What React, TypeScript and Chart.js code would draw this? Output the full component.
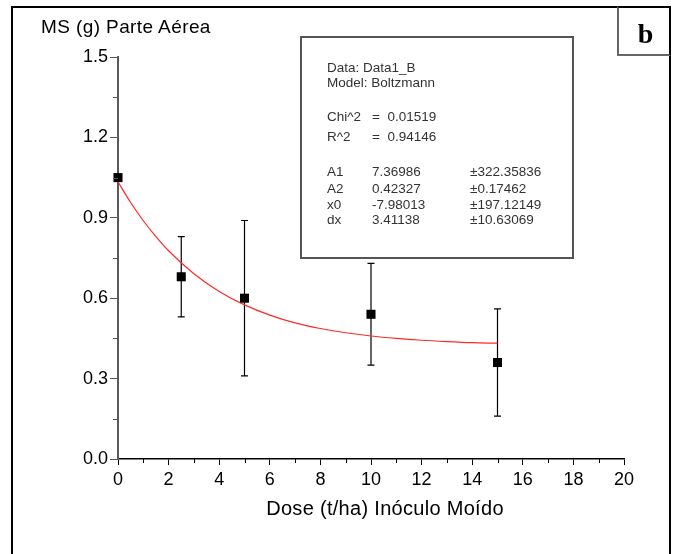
import React, { useEffect, useRef } from 'react';
import { Chart, registerables } from 'chart.js';

Chart.register(...registerables);

// ---- data ----
const doses = [0, 2.5, 5, 10, 15];
const msMeans = [1.05, 0.68, 0.6, 0.54, 0.36];
const msErrors = [0, 0.15, 0.29, 0.19, 0.2];

// Boltzmann fit values (A1=7.36986, A2=0.42327, x0=-7.98013, dx=3.41138), tabulated
const fitDoses = [0, 0.5, 1, 1.5, 2, 3, 4, 5, 6, 7, 8, 9, 10, 11, 12, 13, 14, 15];
const fitValues = [1.034, 0.957, 0.889, 0.83, 0.777, 0.691, 0.625, 0.575, 0.537, 0.508, 0.487, 0.471, 0.459, 0.45, 0.443, 0.438, 0.434, 0.432];

const xTickLabels = ['0', '2', '4', '6', '8', '10', '12', '14', '16', '18', '20'];
const yTickLabels = ['0.0', '0.3', '0.6', '0.9', '1.2', '1.5'];

const yTitle = 'MS (g) Parte Aérea';
const xTitle = 'Dose (t/ha) Inóculo Moído';
const panelLetter = 'b';

const infoHeader = ['Data: Data1_B', 'Model: Boltzmann'];
const infoStatNames = ['Chi^2', 'R^2'];
const infoStatValues = ['=  0.01519', '=  0.94146'];
const paramNames = ['A1', 'A2', 'x0', 'dx'];
const paramValues = ['7.36986', '0.42327', '-7.98013', '3.41138'];
const paramErrors = ['±322.35836', '±0.17462', '±197.12149', '±10.63069'];

const FONT = '"Liberation Sans", Arial, sans-serif';

const isMajorY = (v: number) => Math.abs(v / 0.3 - Math.round(v / 0.3)) < 1e-6;
const isMajorX = (v: number) => Math.abs(v / 2 - Math.round(v / 2)) < 1e-6;

const extrasPlugin = {
  id: 'extras',
  beforeDatasetsDraw(chart: any) {
    const { ctx, scales } = chart;
    const xs = scales.x, ys = scales.y;
    ctx.save();
    ctx.strokeStyle = '#000';
    ctx.lineWidth = 1.2;
    for (let i = 0; i < doses.length; i++) {
      if (!msErrors[i]) continue;
      const px = xs.getPixelForValue(doses[i]);
      const top = ys.getPixelForValue(msMeans[i] + msErrors[i]);
      const bot = ys.getPixelForValue(msMeans[i] - msErrors[i]);
      ctx.beginPath();
      ctx.moveTo(px, top); ctx.lineTo(px, bot);
      ctx.moveTo(px - 3.5, top); ctx.lineTo(px + 3.5, top);
      ctx.moveTo(px - 3.5, bot); ctx.lineTo(px + 3.5, bot);
      ctx.stroke();
    }
    ctx.restore();
  },
  afterDraw(chart: any) {
    const { ctx, scales } = chart;
    const xs = scales.x, ys = scales.y;
    ctx.save();
    ctx.lineWidth = 1;
    ctx.strokeStyle = '#555';
    ys.ticks.forEach((t: any) => {
      if (isMajorY(t.value)) return;
      const py = Math.round(ys.getPixelForValue(t.value)) + 0.5;
      ctx.beginPath();
      ctx.moveTo(ys.right - 5, py); ctx.lineTo(ys.right, py);
      ctx.stroke();
    });
    ctx.strokeStyle = '#000';
    xs.ticks.forEach((t: any) => {
      if (isMajorX(t.value)) return;
      const px = Math.round(xs.getPixelForValue(t.value)) + 0.5;
      ctx.beginPath();
      ctx.moveTo(px, xs.top); ctx.lineTo(px, xs.top + 4);
      ctx.stroke();
    });
    ctx.restore();
  },
};

export default function App() {
  const ref = useRef<HTMLCanvasElement | null>(null);

  useEffect(() => {
    if (!ref.current) return;
    const chart = new Chart(ref.current, {
      type: 'scatter',
      data: {
        datasets: [
          {
            type: 'scatter',
            label: 'MS',
            data: doses.map((d, i) => ({ x: d, y: msMeans[i] })),
            pointStyle: 'rect',
            pointRadius: 6.4,
            pointHoverRadius: 6.4,
            backgroundColor: '#000',
            borderColor: '#000',
            borderWidth: 0,
            clip: false,
            order: 0,
          } as any,
          {
            type: 'line',
            label: 'Boltzmann',
            data: fitDoses.map((d, i) => ({ x: d, y: fitValues[i] })),
            borderColor: '#ff2a2a',
            borderWidth: 1.2,
            pointRadius: 0,
            fill: false,
            cubicInterpolationMode: 'monotone',
            order: 1,
          } as any,
        ],
      },
      options: {
        responsive: false,
        animation: false,
        devicePixelRatio: 1,
        layout: { padding: { top: 57, right: 52, left: 0, bottom: 0 } },
        plugins: { legend: { display: false }, tooltip: { enabled: false }, title: { display: false } },
        scales: {
          x: {
            type: 'linear',
            min: 0,
            max: 20,
            afterFit: (s: any) => { s.height = 95; },
            ticks: {
              stepSize: 1,
              autoSkip: false,
              maxRotation: 0,
              padding: 4,
              color: '#000',
              font: { family: FONT, size: 18 },
              callback: (v: any) => (isMajorX(Number(v)) ? xTickLabels[Math.round(Number(v) / 2)] : ''),
            },
            grid: {
              display: true,
              drawOnChartArea: false,
              drawTicks: true,
              tickLength: 6,
              tickColor: (c: any) => (c.tick && isMajorX(c.tick.value) ? '#000' : 'rgba(0,0,0,0)'),
            },
            border: { display: true, color: '#000', width: 1.5 },
          },
          y: {
            type: 'linear',
            min: 0,
            max: 1.5,
            afterFit: (s: any) => { s.width = 118; },
            ticks: {
              stepSize: 0.15,
              autoSkip: false,
              padding: 2,
              color: '#000',
              font: { family: FONT, size: 18 },
              callback: (v: any) => (isMajorY(Number(v)) ? yTickLabels[Math.round(Number(v) / 0.3)] : ''),
            },
            grid: {
              display: true,
              drawOnChartArea: false,
              drawTicks: true,
              tickLength: 8,
              tickColor: (c: any) => (c.tick && isMajorY(c.tick.value) ? '#555' : 'rgba(0,0,0,0)'),
            },
            border: { display: true, color: '#5a5a5a', width: 2 },
          },
        },
      },
      plugins: [extrasPlugin],
    });
    return () => chart.destroy();
  }, []);

  const abs = (s: React.CSSProperties): React.CSSProperties => ({ position: 'absolute', margin: 0, padding: 0, ...s });
  const infoText: React.CSSProperties = { fontFamily: FONT, fontSize: 13.5, color: '#333', lineHeight: '16px', whiteSpace: 'nowrap' };
  const headerY = [60, 75];
  const statY = [109, 129];
  const paramY = [164, 181, 197, 212];

  return (
    <div style={{ position: 'fixed', left: 0, top: 0, width: 676, height: 554, background: '#fff', overflow: 'hidden' }}>
      <canvas ref={ref} width={676} height={554} style={{ position: 'absolute', left: 0, top: 0, width: 676, height: 554 }} />
      {/* outer frame */}
      <div style={abs({ left: 11, top: 6, width: 660, height: 600, boxSizing: 'border-box', borderTop: '2px solid #000', borderLeft: '2px solid #000', borderRight: '2px solid #000' })} />
      {/* panel letter */}
      <div style={abs({ left: 617, top: 6, width: 54, height: 50, boxSizing: 'border-box', borderLeft: '2px solid #666', borderBottom: '2px solid #666', borderTop: '2px solid #000', borderRight: '2px solid #000', display: 'flex', alignItems: 'center', justifyContent: 'center', fontFamily: '"Liberation Serif", "Times New Roman", serif', fontWeight: 'bold', fontSize: 28, lineHeight: '28px', color: '#000' })}>
        <span style={{ marginTop: 6, marginLeft: 3 }}>{panelLetter}</span>
      </div>
      {/* y title */}
      <div style={abs({ left: 41, top: 16, fontFamily: FONT, fontSize: 19, lineHeight: '22px', letterSpacing: 0.4, color: '#000', whiteSpace: 'nowrap' })}>{yTitle}</div>
      {/* x title */}
      <div style={abs({ left: 200, width: 370, top: 496, textAlign: 'center', fontFamily: FONT, fontSize: 20, lineHeight: '24px', letterSpacing: 0.3, color: '#000', whiteSpace: 'nowrap' })}>{xTitle}</div>
      {/* fit info box */}
      <div style={abs({ left: 300, top: 36, width: 274, height: 223, boxSizing: 'border-box', border: '2px solid #555', background: '#fff' })} />
      {infoHeader.map((t, i) => (
        <div key={'h' + i} style={abs({ left: 327, top: headerY[i], ...infoText })}>{t}</div>
      ))}
      {infoStatNames.map((t, i) => (
        <React.Fragment key={'s' + i}>
          <div style={abs({ left: 327, top: statY[i], ...infoText })}>{t}</div>
          <div style={abs({ left: 372, top: statY[i], ...infoText, whiteSpace: 'pre' })}>{infoStatValues[i]}</div>
        </React.Fragment>
      ))}
      {paramNames.map((t, i) => (
        <React.Fragment key={'p' + i}>
          <div style={abs({ left: 327, top: paramY[i], ...infoText })}>{t}</div>
          <div style={abs({ left: 372, top: paramY[i], ...infoText })}>{paramValues[i]}</div>
          <div style={abs({ left: 470, top: paramY[i], ...infoText })}>{paramErrors[i]}</div>
        </React.Fragment>
      ))}
    </div>
  );
}
